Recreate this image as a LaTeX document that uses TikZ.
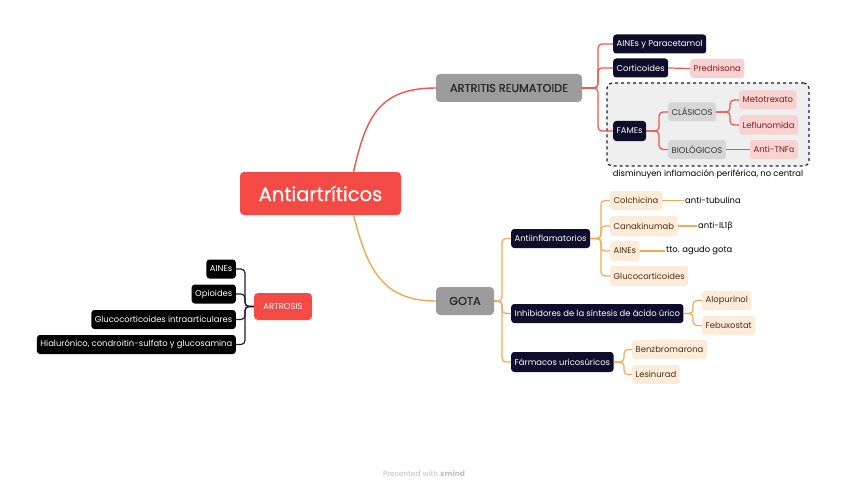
\documentclass[tikz,border=0pt]{standalone}
\usepackage{fontspec}
\setmainfont{Poppins}
\newfontfamily\gr{Noto Sans}
\newfontfamily\med{Poppins}[FakeBold=0.6]
\usetikzlibrary{calc}
\definecolor{cred}{HTML}{F44A45}
\definecolor{rline}{HTML}{F2534B}
\definecolor{oline}{HTML}{F7A654}
\definecolor{gbox}{HTML}{9C9C9C}
\definecolor{navy}{HTML}{0E0E2C}
\definecolor{nline}{HTML}{1A1C3F}
\definecolor{lgray}{HTML}{D6D6D6}
\definecolor{pinkf}{HTML}{F8D2D0}
\definecolor{pinkt}{HTML}{7A1E1E}
\definecolor{peachf}{HTML}{FDEBDA}
\definecolor{peacht}{HTML}{4A2E12}
\definecolor{dashf}{HTML}{EFEFEF}
\tikzset{
  base/.style={rounded corners=3pt, inner xsep=3.5pt, inner ysep=0pt, minimum height=19pt, font=\fontsize{8.4}{10}\selectfont},
  navybox/.style={base, fill=navy, text=white},
  blackbox/.style={base, fill=black, text=white},
  pinkbox/.style={base, fill=pinkf, text=pinkt},
  peachbox/.style={base, fill=peachf, text=peacht},
  graybox/.style={base, fill=lgray, text=black!80},
  plain/.style={inner sep=1pt, font=\fontsize{8.4}{10}\selectfont, text=black},
  mainbox/.style={rounded corners=4pt, fill=gbox, text=black!85, minimum height=28pt, inner xsep=6pt, font=\fontsize{11.3}{13}\med},
  rcon/.style={draw=rline, line width=1.2pt, rounded corners=4pt},
  ocon/.style={draw=oline, line width=1.2pt, rounded corners=4pt},
  ncon/.style={draw=nline, line width=1.2pt, rounded corners=4pt},
}
\begin{document}
\begin{tikzpicture}[x=1pt,y=-1pt]
\useasboundingbox (0,0) rectangle (848,492);
% dashed group box
\node[draw=nline, dashed, line width=1.2pt, fill=dashf, rounded corners=5pt, minimum width=202pt, minimum height=83pt] (grp) at (708,124.5) {};
\node[plain] (cap) at (708,174.5) {disminuyen inflamación periférica, no central};

% central
\node[rounded corners=4pt, fill=cred, text=white, minimum width=161pt, minimum height=43pt, font=\fontsize{19.5}{22}\med] (c) at (320.5,193.5) {Antiartríticos};
\node[mainbox, minimum width=146pt] (ra) at (509,88) {ARTRITIS REUMATOIDE};
\node[mainbox, minimum width=58pt] (gota) at (465,301) {GOTA};
\node[rounded corners=4pt, fill=cred, text=white, minimum width=58pt, minimum height=27pt, font=\fontsize{8.5}{10}\selectfont] (ar) at (283,306.5) {ARTROSIS};

\draw[draw=rline, line width=1.4pt] ($(c.north)+(33,0)$) .. controls (366,118) and (378,88) .. (ra.west);
\draw[draw=oline, line width=1.4pt] ($(c.south)+(33,0)$) .. controls (366,262) and (378,301) .. (gota.west);

% Artrosis children
\node[blackbox, anchor=east] (a1) at (236,269) {AINEs};
\node[blackbox, anchor=east] (a2) at (236,294) {Opioides};
\node[blackbox, anchor=east] (a3) at (236,319.5) {Glucocorticoides intraarticulares};
\node[blackbox, anchor=east] (a4) at (236,344.5) {Hialurónico, condroitin-sulfato y glucosamina};
\coordinate (ba) at (245,0);
\foreach \n in {a1,a2,a3,a4}{\draw[ncon] (ar.west) -- (ba |- ar.west) |- (\n.east);}

% RA children
\node[navybox, anchor=west] (r1) at (613,44) {AINEs y Paracetamol};
\node[navybox, anchor=west] (r2) at (613,68) {Corticoides};
\node[pinkbox, anchor=west] (pred) at (690,68.5) {Prednisona};
\node[navybox, anchor=west, minimum height=20pt] (fam) at (613,131) {FAMEs};
\node[graybox, anchor=west] (cla) at (668,112) {CLÁSICOS};
\node[graybox, anchor=west] (bio) at (668,149.5) {BIOLÓGICOS};
\node[pinkbox, anchor=west] (met) at (739,100) {Metotrexato};
\node[pinkbox, anchor=west] (lef) at (739,125) {Leflunomida};
\node[pinkbox, anchor=west] (tnf) at (750,149.5) {Anti-TNF{\gr α}};
\coordinate (br) at (598,0);
\foreach \n in {r1,r2,fam}{\draw[rcon] (ra.east) -- (br |- ra.east) |- (\n.west);}
\draw[rcon] (r2.east) -- (pred.west);
\coordinate (bf) at (659,0);
\foreach \n in {cla,bio}{\draw[rcon] (fam.east) -- (bf |- fam.east) |- (\n.west);}
\coordinate (bc) at (730,0);
\foreach \n in {met,lef}{\draw[rcon] (cla.east) -- (bc |- cla.east) |- (\n.west);}
\draw[rcon] (bio.east) -- (tnf.west);

% Gota children
\node[navybox, anchor=west] (g1) at (511,238.5) {Antiinflamatorios};
\node[navybox, anchor=west] (g2) at (511,313.5) {Inhibidores de la síntesis de ácido úrico};
\node[navybox, anchor=west, minimum height=20pt] (g3) at (511,362) {Fármacos uricosúricos};
\coordinate (bg) at (502,0);
\foreach \n in {g1,g2,g3}{\draw[ocon] (gota.east) -- (bg |- gota.east) |- (\n.west);}

\node[peachbox, anchor=west] (col) at (610,200.5) {Colchicina};
\node[peachbox, anchor=west, minimum height=20pt] (can) at (610,226) {Canakinumab};
\node[peachbox, anchor=west, minimum height=20pt] (ain) at (610,251) {AINEs};
\node[peachbox, anchor=west, minimum height=20pt] (glu) at (610,276) {Glucocorticoides};
\node[plain, anchor=west] (tub) at (684,200.5) {anti-tubulina};
\node[plain, anchor=west] (il) at (697,226) {anti-IL1{\gr β}};
\node[plain, anchor=west] (tto) at (665,251) {tto. agudo gota};
\coordinate (bi) at (601,0);
\foreach \n in {col,can,ain,glu}{\draw[ocon] (g1.east) -- (bi |- g1.east) |- (\n.west);}
\draw[ocon] (col.east) -- (tub.west);
\draw[ocon] (can.east) -- (il.west);
\draw[ocon] (ain.east) -- (tto.west);

\node[peachbox, anchor=west] (alo) at (702,300.5) {Alopurinol};
\node[peachbox, anchor=west] (feb) at (702,325.5) {Febuxostat};
\coordinate (bh) at (693,0);
\foreach \n in {alo,feb}{\draw[ocon] (g2.east) -- (bh |- g2.east) |- (\n.west);}

\node[peachbox, anchor=west] (ben) at (632,349.5) {Benzbromarona};
\node[peachbox, anchor=west] (les) at (632,374.5) {Lesinurad};
\coordinate (bu) at (624,0);
\foreach \n in {ben,les}{\draw[ocon] (g3.east) -- (bu |- g3.east) |- (\n.west);}

\node[text=black!25, font=\fontsize{7.5}{9}\selectfont] (foot) at (424,474) {Presented with \textbf{xmind}};
\end{tikzpicture}
\end{document}
